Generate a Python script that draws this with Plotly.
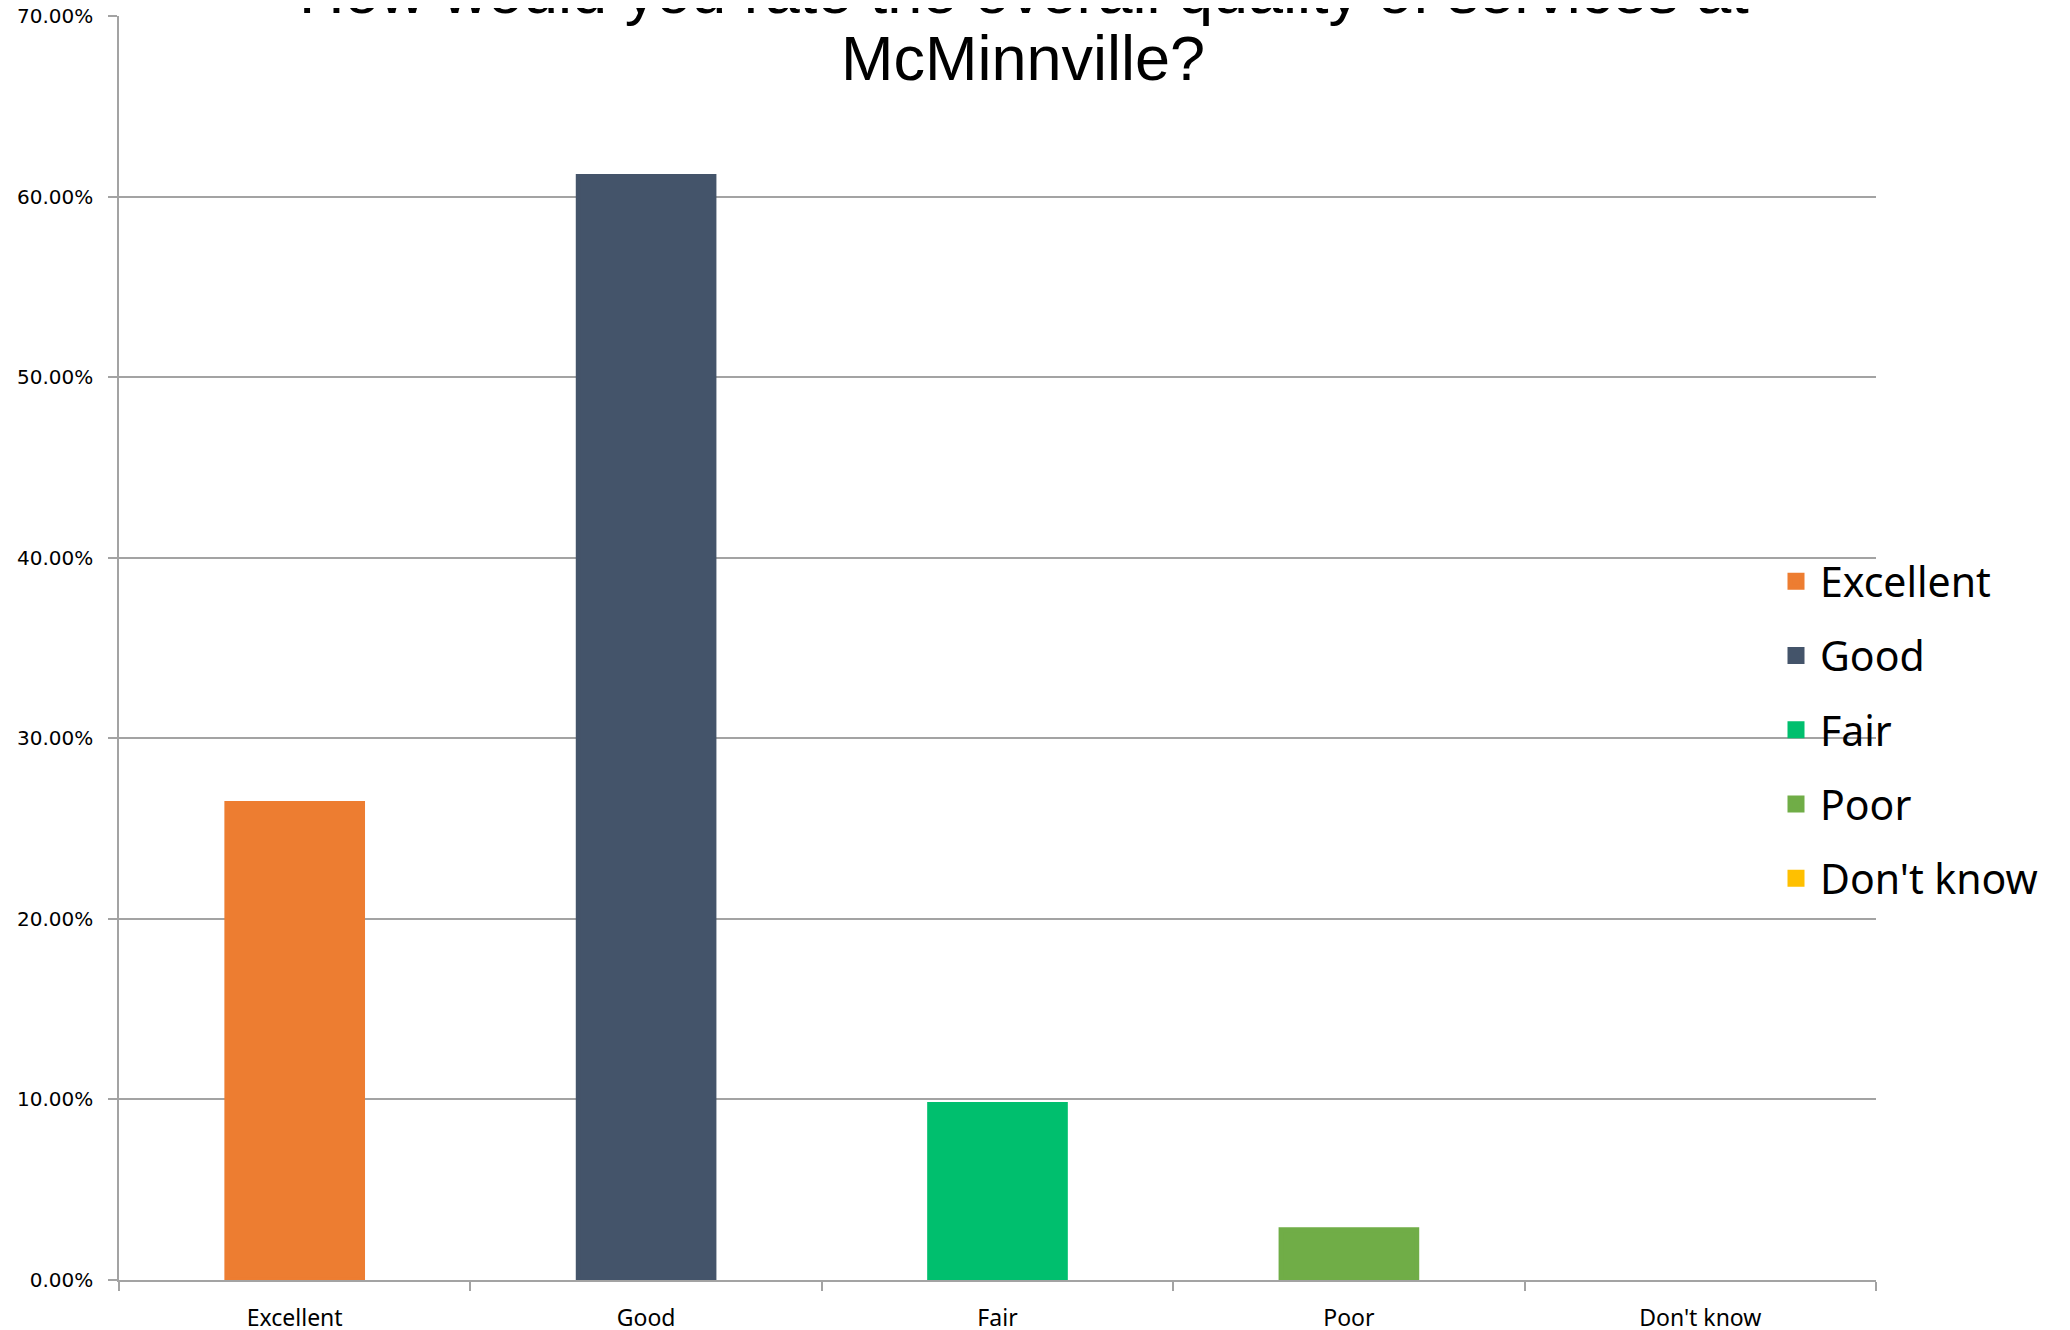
import plotly.graph_objects as go

categories = ["Excellent", "Good", "Fair", "Poor", "Don't know"]
values = [0.2639, 0.6111, 0.0972, 0.0278, 0.0]
colors = ["#ED7D31", "#44546A", "#00BF6E", "#70AD47", "#FFC000"]
title_line1 = "How would you rate the overall quality of services at"
title_line2 = "McMinnville?"
y_ticks = [0, 0.1, 0.2, 0.3, 0.4, 0.5, 0.6, 0.7]

# page body has an 8px default margin; size the figure so it ends at the window edge
OFF = 8
W, H = 2070 - OFF, 1330 - OFF
ML, MT = 119 - OFF, 16 - OFF
plot_w, plot_h = 1757, 1264
MR = W - ML - plot_w
MB = H - MT - plot_h

fig = go.Figure()
for cat, val, col in zip(categories, values, colors):
    # a zero-height bar is left undrawn (no stroke sliver at the baseline)
    fig.add_trace(go.Bar(
        x=[cat], y=[val if val > 0 else None], name=cat, legendgroup=cat,
        marker=dict(color=col, line=dict(color=col, width=5)),
        width=0.386, hoverinfo="x+y",
    ))

grid_col = "#A3A3A3"

def px_x(p):
    return (p - OFF - ML) / plot_w

def px_y(p):
    return (OFF + MT + plot_h - p) / plot_h

fig.update_layout(
    width=W, height=H,
    margin=dict(l=ML, r=MR, t=MT, b=MB, pad=0, autoexpand=False),
    paper_bgcolor="white", plot_bgcolor="white",
    showlegend=True,
    barmode="overlay",
    legend=dict(
        x=px_x(1772), y=px_y(548), xanchor="left", yanchor="top",
        font=dict(family="Noto Sans", size=41, color="black"),
        bgcolor="rgba(0,0,0,0)", tracegroupgap=18, traceorder="grouped",
        itemwidth=38,
    ),
    xaxis=dict(
        categoryorder="array", categoryarray=categories,
        showgrid=False, showline=True, linecolor=grid_col, linewidth=1.5,
        ticks="outside", tickson="boundaries", ticklen=9, tickwidth=1.5,
        tickcolor=grid_col, ticklabelstandoff=17, automargin=False,
        ticklabeloverflow="allow",
        tickfont=dict(family="Noto Sans", size=23, color="black"),
        range=[-0.5, 4.5], fixedrange=True,
    ),
    yaxis=dict(
        range=[0, 0.70], tickvals=y_ticks, tickformat=".2%",
        showgrid=True, gridcolor=grid_col, gridwidth=1.5,
        showline=True, linecolor=grid_col, linewidth=1.5,
        ticks="outside", ticklen=9, tickwidth=1.5, tickcolor=grid_col,
        ticklabelstandoff=11, zeroline=False, automargin=False,
        ticklabeloverflow="allow",
        tickfont=dict(family="DejaVu Sans", size=20, color="black"),
    ),
    annotations=[
        dict(text=title_line1, x=px_x(1024), y=px_y(-9), xref="paper", yref="paper",
             xanchor="center", yanchor="middle", showarrow=False,
             font=dict(family="Liberation Sans", size=63, color="black")),
        dict(text=title_line2, x=px_x(1023), y=px_y(58), xref="paper", yref="paper",
             xanchor="center", yanchor="middle", showarrow=False,
             font=dict(family="Liberation Sans", size=63, color="black")),
    ],
)

fig.write_html("out.html")
